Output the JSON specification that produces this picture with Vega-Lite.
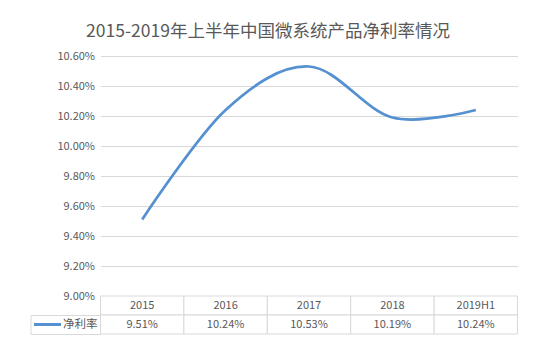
{
  "$schema": "https://vega.github.io/schema/vega-lite/v6.json",
  "background": "white",
  "padding": {"left": 29.5, "top": 22, "right": 10, "bottom": 5},
  "title": {
    "text": "2015-2019年上半年中国微系统产品净利率情况",
    "fontSize": 17.5,
    "font": "Noto Sans CJK SC",
    "fontWeight": "normal",
    "color": "#595959",
    "anchor": "middle",
    "offset": 10,
    "dx": -6
  },
  "data": {
    "values": [
      {"year": "2015", "rate": 0.0951},
      {"year": "2016", "rate": 0.1024},
      {"year": "2017", "rate": 0.1053},
      {"year": "2018", "rate": 0.1019},
      {"year": "2019H1", "rate": 0.1024}
    ]
  },
  "spacing": 0,
  "bounds": "flush",
  "config": {"view": {"stroke": null}, "font": "Noto Sans CJK SC"},
  "vconcat": [
    {
      "width": 417,
      "height": 240,
      "mark": {"type": "line", "interpolate": "cardinal", "color": "#5590D0", "strokeWidth": 2.75},
      "encoding": {
        "x": {"field": "year", "type": "ordinal", "sort": null, "scale": {"type": "point", "padding": 0.5}, "axis": null},
        "y": {
          "field": "rate",
          "type": "quantitative",
          "scale": {"domain": [0.09, 0.106], "nice": false, "zero": false},
          "axis": {
            "values": [0.09, 0.092, 0.094, 0.096, 0.098, 0.1, 0.102, 0.104, 0.106],
            "format": ".2%",
            "grid": true,
            "gridColor": "#d9d9d9",
            "gridWidth": 1,
            "domain": false,
            "ticks": false,
            "tickSize": 0,
            "labelPadding": 6,
            "labelFontSize": 11,
            "labelColor": "#595959",
            "title": null
          }
        }
      }
    },
    {
      "width": 417,
      "height": 19,
      "layer": [
        {
          "mark": {"type": "rect", "fill": "white", "stroke": "#d9d9d9", "strokeWidth": 1},
          "encoding": {
            "x": {"field": "year", "type": "ordinal", "sort": null, "scale": {"paddingInner": 0, "paddingOuter": 0}, "axis": null}
          }
        },
        {
          "mark": {"type": "text", "fontSize": 11, "color": "#595959"},
          "encoding": {
            "x": {"field": "year", "type": "ordinal", "sort": null, "axis": null},
            "text": {"field": "year"}
          }
        }
      ]
    },
    {
      "width": 417,
      "height": 19,
      "layer": [
        {
          "mark": {"type": "rect", "fill": "white", "stroke": "#d9d9d9", "strokeWidth": 1},
          "encoding": {
            "x": {"field": "year", "type": "ordinal", "sort": null, "scale": {"paddingInner": 0, "paddingOuter": 0}, "axis": null},
            "y": {
              "datum": "净利率",
              "type": "nominal",
              "scale": {"paddingInner": 0, "paddingOuter": 0},
              "axis": {
                "orient": "left",
                "offset": 40,
                "domain": false,
                "ticks": true,
                "tickColor": "#5590D0",
                "tickWidth": 3,
                "tickSize": 27,
                "labelAlign": "left",
                "labelPadding": -29,
                "labelFontSize": 11.5,
                "labelColor": "#595959",
                "grid": false,
                "title": null
              }
            }
          }
        },
        {
          "mark": {"type": "text", "fontSize": 11, "color": "#595959"},
          "encoding": {
            "x": {"field": "year", "type": "ordinal", "sort": null, "axis": null},
            "y": {"datum": "净利率", "type": "nominal", "axis": null},
            "text": {"field": "rate", "format": ".2%"}
          }
        },
        {
          "data": {"values": [{"k": 1}]},
          "mark": {"type": "point", "opacity": 0},
          "encoding": {
            "y": {
              "datum": 0.5,
              "type": "quantitative",
              "scale": {"domain": [0, 1], "nice": false, "zero": false},
              "axis": {
                "orient": "left",
                "offset": 70,
                "domain": true,
                "domainColor": "#d9d9d9",
                "domainWidth": 1,
                "ticks": true,
                "values": [0, 1],
                "tickSize": -70,
                "tickColor": "#d9d9d9",
                "tickWidth": 1,
                "labels": false,
                "grid": false,
                "title": null
              }
            }
          }
        }
      ],
      "resolve": {"scale": {"y": "independent"}, "axis": {"y": "independent"}}
    }
  ]
}
